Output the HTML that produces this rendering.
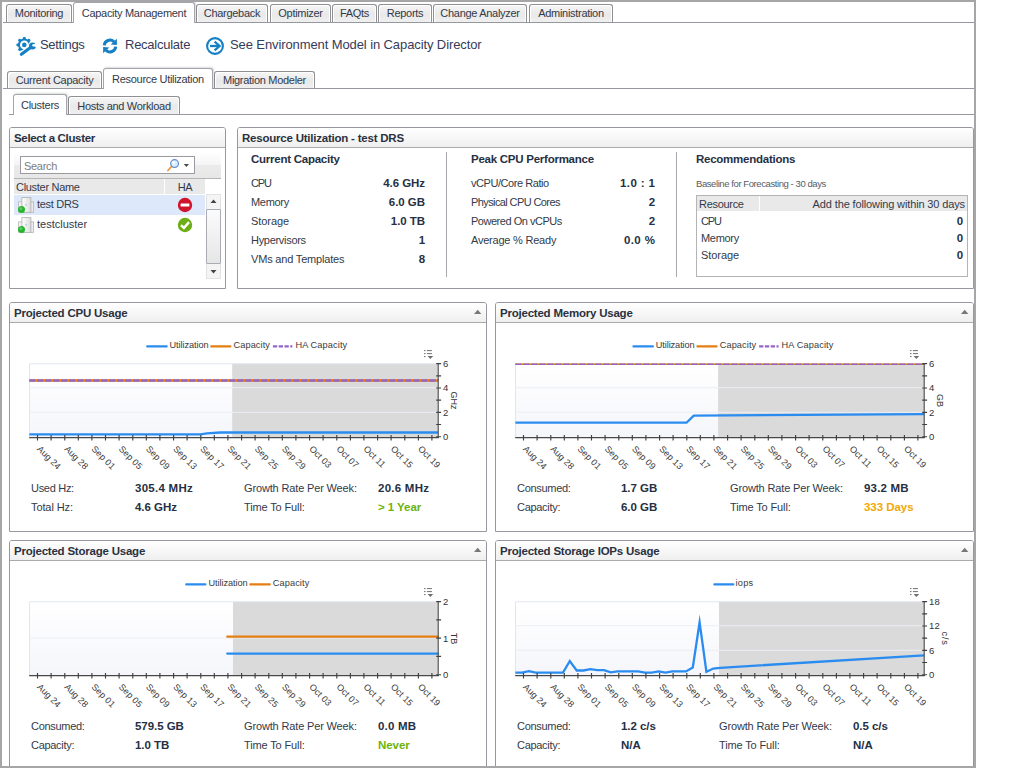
<!DOCTYPE html><html><head><meta charset='utf-8'><title>Capacity Management</title><style>
html,body{margin:0;padding:0;background:#fff;}
body{width:1028px;height:768px;overflow:hidden;position:relative;font-family:"Liberation Sans",sans-serif;font-size:11px;color:#323a49;letter-spacing:-0.3px;}
div,span{box-sizing:border-box;}
.a{position:absolute;white-space:nowrap;}
.frame{position:absolute;background:#a6a6a6;z-index:10;}
.tab{position:absolute;border:1px solid #8f8f94;border-bottom:none;border-radius:3px 3px 0 0;background:linear-gradient(#f6f6f6,#e9e9e9 55%,#efefef);box-shadow:inset 1px 1px 0 #fff,inset -1px 0 0 #fff;text-align:center;white-space:nowrap;font-size:11px;}
.tab.on{background:#fff;border-color:#a4a6ad;box-shadow:1px -1px 2px rgba(0,0,0,.14);z-index:3;}
.hl{position:absolute;height:1px;background:#96989f;}
.panel{position:absolute;border:1px solid #96989f;border-radius:3px 3px 0 0;background:#fff;}
.ph{position:absolute;left:0;right:0;top:0;height:20px;border-bottom:1px solid #a9a9ae;border-radius:2px 2px 0 0;background:linear-gradient(#ffffff,#efefef);}
.pt{position:absolute;left:4px;top:4px;font-weight:bold;font-size:11.5px;letter-spacing:-0.22px;color:#2a3140;white-space:nowrap;}
.b{font-weight:bold;font-size:11.5px;letter-spacing:-0.05px;color:#263044;}
.h2{font-weight:bold;font-size:11.5px;letter-spacing:-0.25px;color:#263044;}
.r{text-align:right;}
.tb{font-size:13px;letter-spacing:-0.1px;color:#363c5a;}
.ct{font-family:"Liberation Sans",sans-serif;}
</style></head><body>
<div class='frame' style='left:0;top:0;width:2px;height:768px'></div>
<div class='frame' style='left:0;top:0;width:976px;height:2px'></div>
<div class='frame' style='left:974px;top:0;width:2px;height:768px'></div>
<div class='frame' style='left:0;top:766px;width:976px;height:2px'></div>
<div class='hl' style='left:3px;top:22px;width:971px'></div>
<div class='tab' style='left:6px;top:4px;width:66px;height:18px;line-height:17px'>Monitoring</div>
<div class='tab on' style='left:73px;top:2px;width:122px;height:21px;line-height:21px'>Capacity Management</div>
<div class='tab' style='left:196px;top:4px;width:72px;height:18px;line-height:17px'>Chargeback</div>
<div class='tab' style='left:270px;top:4px;width:61px;height:18px;line-height:17px'>Optimizer</div>
<div class='tab' style='left:332px;top:4px;width:45px;height:18px;line-height:17px'>FAQts</div>
<div class='tab' style='left:378px;top:4px;width:54px;height:18px;line-height:17px'>Reports</div>
<div class='tab' style='left:433px;top:4px;width:94px;height:18px;line-height:17px'>Change Analyzer</div>
<div class='tab' style='left:529px;top:4px;width:84px;height:18px;line-height:17px'>Administration</div>
<div class='a tb' style='left:40px;top:37px;letter-spacing:-0.3px'>Settings</div>
<div class='a tb' style='left:125px;top:37px;letter-spacing:-0.25px'>Recalculate</div>
<div class='a tb' style='left:230px;top:37px'>See Environment Model in Capacity Director</div>
<svg class='a' style='left:15px;top:35px' width='23' height='22' viewBox='0 0 23 22'>
<g fill='#1581c4'>
<circle cx='9.3' cy='9.9' r='6.3'/>
<g transform='translate(9.3 9.9)'>
<rect x='-1.5' y='-7.9' width='3' height='15.8' rx='1.1'/>
<rect x='-1.5' y='-7.9' width='3' height='15.8' rx='1.1' transform='rotate(45)'/>
<rect x='-1.5' y='-7.9' width='3' height='15.8' rx='1.1' transform='rotate(90)'/>
<rect x='-1.5' y='-7.9' width='3' height='15.8' rx='1.1' transform='rotate(135)'/>
</g></g>
<circle cx='9.3' cy='9.9' r='4.3' fill='#fff'/>
<circle cx='9.3' cy='9.9' r='2.3' fill='#1581c4'/>
<path d='M6.4 19.2 L16.2 12' stroke='#fff' stroke-width='5.6' stroke-linecap='round'/>
<circle cx='17.4' cy='11' r='4.6' fill='#fff'/>
<path d='M6.4 19.2 L16.2 12' stroke='#1581c4' stroke-width='3.2' stroke-linecap='round'/>
<circle cx='17.4' cy='11' r='3.5' fill='#1581c4'/>
<path d='M17.6 10.7 L23 6.5 L23 12.7 Z' fill='#fff'/>
<circle cx='18.6' cy='10.2' r='1.3' fill='#fff'/>
</svg>
<svg class='a' style='left:101px;top:37px' width='18' height='18' viewBox='0 0 18 18'>
<g fill='none' stroke='#1581c4' stroke-width='3'>
<path d='M3.3 8.4 A5.7 5.7 0 0 1 13 4.8'/>
<path d='M14.7 9.6 A5.7 5.7 0 0 1 5 13.2'/>
</g>
<path d='M15.9 1.8 L15.9 8 L9.7 7.4 Z' fill='#1581c4'/>
<path d='M2.1 16.2 L2.1 10 L8.3 10.6 Z' fill='#1581c4'/>
</svg>
<svg class='a' style='left:205px;top:36px' width='20' height='20' viewBox='0 0 20 20'>
<circle cx='10' cy='10' r='7.9' fill='#fff' stroke='#1581c4' stroke-width='2.1'/>
<path d='M5 10 H13.2' fill='none' stroke='#1581c4' stroke-width='2.3'/>
<path d='M9.6 5.6 L14.6 10 L9.6 14.4' fill='none' stroke='#1581c4' stroke-width='2.3' stroke-linejoin='miter'/>
</svg>
<div class='hl' style='left:3px;top:88px;width:971px'></div>
<div class='tab' style='left:7px;top:71px;width:95px;height:17px;line-height:17px'>Current Capacity</div>
<div class='tab on' style='left:103px;top:68px;width:110px;height:21px;line-height:20px'>Resource Utilization</div>
<div class='tab' style='left:214px;top:71px;width:101px;height:17px;line-height:17px'>Migration Modeler</div>
<div class='hl' style='left:9px;top:114px;width:965px'></div>
<div class='tab on' style='left:13px;top:94px;width:54px;height:21px;line-height:20px'>Clusters</div>
<div class='tab' style='left:68px;top:96px;width:112px;height:18px;line-height:18px'>Hosts and Workload</div>
<div class='panel' style='left:9px;top:127px;width:217px;height:162px'><div class='ph'></div><div class='pt' style='letter-spacing:-0.34px'>Select a Cluster</div></div>
<div class='a' style='left:14px;top:152px;width:207px;height:27px;background:linear-gradient(#ffffff,#f5f5f5 48%,#ebebeb 52%,#e7e7e7);border-bottom:1px solid #b5b5b5'></div>
<div class='a' style='left:20px;top:156px;width:175px;height:18px;border:1px solid #9a9aa0;background:#fff'></div>
<div class='a' style='left:24px;top:159px;font-size:11px;color:#7c7c7c;line-height:14px'>Search</div>
<svg class='a' style='left:165px;top:158px' width='28' height='14' viewBox='0 0 28 14'>
<path d='M6.4 8.6 L2.9 12.5' stroke='#ee9a35' stroke-width='1.7' stroke-linecap='round'/>
<circle cx='9.6' cy='5.6' r='3.9' fill='#d6efff' stroke='#6488cc' stroke-width='1.2'/>
<circle cx='8.6' cy='4.6' r='1.6' fill='#f2fbff'/>
<path d='M18.8 6 h5.2 l-2.6 3.1 z' fill='#4a4a4a'/>
</svg>
<div class='a' style='left:14px;top:179px;width:150px;height:15px;background:#e9e9e9'></div>
<div class='a' style='left:165px;top:179px;width:40px;height:15px;background:#e9e9e9'></div>
<div class='a' style='left:16px;top:180px;line-height:14px'>Cluster Name</div>
<div class='a' style='left:165px;top:180px;width:40px;text-align:center;line-height:14px'>HA</div>
<div class='a' style='left:14px;top:195px;width:191px;height:20px;background:#dde9fb'></div>
<div class='a' style='left:37px;top:197px;line-height:14px'>test DRS</div>
<div class='a' style='left:37px;top:217px;line-height:14px;letter-spacing:0'>testcluster</div>
<svg class='a' style='left:17px;top:196px' width='18' height='18' viewBox='0 0 18 18'>
<defs><linearGradient id='ci196' x1='0' y1='0' x2='1' y2='0'><stop offset='0' stop-color='#ffffff'/><stop offset='1' stop-color='#dcdcdc'/></linearGradient></defs>
<rect x='1.5' y='5.9' width='4' height='10.2' fill='#f2f2f2' stroke='#b9b9b9' stroke-width='.8'/>
<rect x='13.6' y='5.9' width='3' height='10.4' fill='#ececec' stroke='#b4b4b4' stroke-width='.8'/>
<rect x='4.9' y='1.6' width='9' height='14.8' fill='url(#ci196)' stroke='#b0b0b0' stroke-width='.8'/>
<rect x='8.4' y='8.4' width='1.4' height='1' fill='#86abd8'/>
<circle cx='4.5' cy='13.5' r='3.5' fill='#25b52f'/>
<circle cx='3.9' cy='12.6' r='1.6' fill='#5fd467' opacity='.8'/>
</svg>
<svg class='a' style='left:17px;top:216px' width='18' height='18' viewBox='0 0 18 18'>
<defs><linearGradient id='ci216' x1='0' y1='0' x2='1' y2='0'><stop offset='0' stop-color='#ffffff'/><stop offset='1' stop-color='#dcdcdc'/></linearGradient></defs>
<rect x='1.5' y='5.9' width='4' height='10.2' fill='#f2f2f2' stroke='#b9b9b9' stroke-width='.8'/>
<rect x='13.6' y='5.9' width='3' height='10.4' fill='#ececec' stroke='#b4b4b4' stroke-width='.8'/>
<rect x='4.9' y='1.6' width='9' height='14.8' fill='url(#ci216)' stroke='#b0b0b0' stroke-width='.8'/>
<rect x='8.4' y='8.4' width='1.4' height='1' fill='#86abd8'/>
<circle cx='4.5' cy='13.5' r='3.5' fill='#25b52f'/>
<circle cx='3.9' cy='12.6' r='1.6' fill='#5fd467' opacity='.8'/>
</svg>
<svg class='a' style='left:177px;top:197px' width='16' height='16' viewBox='0 0 16 16'><circle cx='8' cy='8' r='7.2' fill='#d0142c'/><rect x='3.6' y='6.5' width='8.8' height='3' rx='.6' fill='#fff'/></svg>
<svg class='a' style='left:177px;top:217px' width='16' height='16' viewBox='0 0 16 16'><circle cx='8' cy='8' r='7.2' fill='#6cae14'/><path d='M4 8.2 L6.9 11 L12 5.2' fill='none' stroke='#fff' stroke-width='2.5'/></svg>
<div class='a' style='left:206px;top:194px;width:15px;height:85px;background:#f4f4f4;border:1px solid #e2e2e2'></div>
<div class='a' style='left:206px;top:209px;width:15px;height:55px;background:linear-gradient(180deg,#fbfbfb,#e6e6e6);border:1px solid #a9acb3;border-radius:1px'></div>
<svg class='a' style='left:206px;top:194px' width='15' height='85'><path d='M4.5 9 h6 l-3 -3.5 z M4.5 76 h6 l-3 3.5 z' fill='#444'/></svg>
<div class='panel' style='left:237px;top:127px;width:737px;height:162px'><div class='ph'></div><div class='pt'>Resource Utilization - test DRS</div></div>
<div class='a' style='left:446px;top:152px;width:1px;height:125px;background:#a8a8ae'></div>
<div class='a' style='left:676px;top:152px;width:1px;height:125px;background:#a8a8ae'></div>
<div class='a h2' style='left:251px;top:152px;line-height:14px'>Current Capacity</div>
<div class='a h2' style='left:471px;top:152px;line-height:14px'>Peak CPU Performance</div>
<div class='a h2' style='left:696px;top:152px;line-height:14px'>Recommendations</div>
<div class='a' style='left:251px;top:176px;line-height:14px;letter-spacing:-1.1px;'>CPU</div>
<div class='a b r' style='left:325px;width:100px;top:176px;line-height:14px'>4.6 GHz</div>
<div class='a' style='left:251px;top:195px;line-height:14px;'>Memory</div>
<div class='a b r' style='left:325px;width:100px;top:195px;line-height:14px'>6.0 GB</div>
<div class='a' style='left:251px;top:214px;line-height:14px;letter-spacing:-0.07px;'>Storage</div>
<div class='a b r' style='left:325px;width:100px;top:214px;line-height:14px'>1.0 TB</div>
<div class='a' style='left:251px;top:233px;line-height:14px;'>Hypervisors</div>
<div class='a b r' style='left:325px;width:100px;top:233px;line-height:14px'>1</div>
<div class='a' style='left:251px;top:252px;line-height:14px;letter-spacing:-0.18px;'>VMs and Templates</div>
<div class='a b r' style='left:325px;width:100px;top:252px;line-height:14px'>8</div>
<div class='a' style='left:471px;top:176px;line-height:14px;letter-spacing:-0.44px;'>vCPU/Core Ratio</div>
<div class='a b r' style='left:555px;width:100px;top:176px;line-height:14px;letter-spacing:0.4px;margin-left:0.4px;'>1.0 : 1</div>
<div class='a' style='left:471px;top:195px;line-height:14px;letter-spacing:-0.6px;'>Physical CPU Cores</div>
<div class='a b r' style='left:555px;width:100px;top:195px;line-height:14px;'>2</div>
<div class='a' style='left:471px;top:214px;line-height:14px;letter-spacing:-0.48px;'>Powered On vCPUs</div>
<div class='a b r' style='left:555px;width:100px;top:214px;line-height:14px;'>2</div>
<div class='a' style='left:471px;top:233px;line-height:14px;letter-spacing:-0.22px;'>Average % Ready</div>
<div class='a b r' style='left:555px;width:100px;top:233px;line-height:14px;letter-spacing:0.4px;margin-left:0.4px;'>0.0 %</div>
<div class='a' style='left:696px;top:178px;font-size:9.5px;letter-spacing:-0.42px;color:#555c68;line-height:12px'>Baseline for Forecasting - 30 days</div>
<div class='a' style='left:696px;top:195px;width:272px;height:82px;border:1px solid #b3b3b8;background:#fff'></div>
<div class='a' style='left:697px;top:196px;width:62px;height:15px;background:#e9e9e9'></div>
<div class='a' style='left:760px;top:196px;width:207px;height:15px;background:#e9e9e9'></div>
<div class='a' style='left:699px;top:197px;line-height:14px'>Resource</div>
<div class='a r' style='left:760px;width:205px;top:197px;line-height:14px;letter-spacing:-0.13px'>Add the following within 30 days</div>
<div class='a' style='left:701px;top:214px;line-height:14px;letter-spacing:-1.1px;'>CPU</div>
<div class='a b r' style='left:863px;width:100px;top:214px;line-height:14px'>0</div>
<div class='a' style='left:701px;top:231px;line-height:14px;'>Memory</div>
<div class='a b r' style='left:863px;width:100px;top:231px;line-height:14px'>0</div>
<div class='a' style='left:701px;top:248px;line-height:14px;letter-spacing:-0.07px;'>Storage</div>
<div class='a b r' style='left:863px;width:100px;top:248px;line-height:14px'>0</div>
<div class='panel' style='left:9px;top:302px;width:478px;height:230px'><div class='ph'></div><div class='pt'>Projected CPU Usage</div></div>
<svg class='a' style='left:473px;top:309px' width='10' height='6'><path d='M1 5 h7.4 l-3.7 -4.2 z' fill='#777'/></svg>
<svg class='a ct' style='left:9px;top:302px;letter-spacing:0' width='478' height='230' viewBox='0 0 478 230'><defs><linearGradient id='g9302' x1='0' y1='0' x2='0' y2='1'><stop offset='0' stop-color='#ffffff'/><stop offset='1' stop-color='#f5f6fb'/></linearGradient></defs><rect x='20.2' y='61.6' width='409.0' height='74.0' fill='url(#g9302)'/><rect x='223.2' y='61.6' width='206.0' height='74.0' fill='#dadada'/><path d='M20.5 135.6 V61.800000000000004 H429.2' fill='none' stroke='#e2e5ef' stroke-width='1'/><path d='M20.2 110.3 H429.2' stroke='#eceef4' stroke-width='1'/><path d='M20.2 85.7 H429.2' stroke='#eceef4' stroke-width='1'/><clipPath id='c9302'><rect x='20.2' y='61.6' width='410.0' height='74.0'/></clipPath><g clip-path='url(#c9302)'><path d='M20.2 78.5 L429.2 78.5' fill='none' stroke='#e57f12' stroke-width='2.5' stroke-linejoin='round' stroke-miterlimit='30' stroke-linecap='butt'/><path d='M20.2 78.5 L429.2 78.5' fill='none' stroke='#9467c6' stroke-width='2.5' stroke-linejoin='round' stroke-miterlimit='30' stroke-linecap='butt' stroke-dasharray='6.4 1.6'/><path d='M20.2 132.3 L191.5 132.3 L198.0 131.3 L211.0 130.5 L429.2 130.5' fill='none' stroke='#2b8cf0' stroke-width='2.3' stroke-linejoin='round' stroke-miterlimit='30' stroke-linecap='butt'/></g><path d='M20.2 135.6 H429.8' stroke='#484848' stroke-width='1.15'/><path d='M429.2 61.2 V136.1' stroke='#4a4a4a' stroke-width='1.1'/><path d='M28.5 133.1 v5.3 M42.1 133.1 v5.3 M55.8 133.1 v5.3 M69.3 133.1 v5.3 M82.9 133.1 v5.3 M96.5 133.1 v5.3 M110.1 133.1 v5.3 M123.8 133.1 v5.3 M137.3 133.1 v5.3 M150.9 133.1 v5.3 M164.6 133.1 v5.3 M178.1 133.1 v5.3 M191.8 133.1 v5.3 M205.3 133.1 v5.3 M218.9 133.1 v5.3 M232.6 133.1 v5.3 M246.1 133.1 v5.3 M259.8 133.1 v5.3 M273.3 133.1 v5.3 M286.9 133.1 v5.3 M300.6 133.1 v5.3 M314.1 133.1 v5.3 M327.8 133.1 v5.3 M341.4 133.1 v5.3 M354.9 133.1 v5.3 M368.6 133.1 v5.3 M382.1 133.1 v5.3 M395.8 133.1 v5.3 M409.4 133.1 v5.3 M422.9 133.1 v5.3 M427.2 134.7 h4.9 M427.2 122.5 h4.9 M427.2 110.3 h4.9 M427.2 98.1 h4.9 M427.2 86.0 h4.9 M427.2 73.8 h4.9 M427.2 61.6 h4.9' stroke='#404040' stroke-width='1.15'/><text x='434.09999999999997' y='65.0' font-size='9.5' fill='#333'>6</text><text x='434.09999999999997' y='89.4' font-size='9.5' fill='#333'>4</text><text x='434.09999999999997' y='113.7' font-size='9.5' fill='#333'>2</text><text x='434.09999999999997' y='138.1' font-size='9.5' fill='#333'>0</text><text transform='translate(441.8 98.6) rotate(90)' text-anchor='middle' font-size='9' letter-spacing='0' fill='#333'>GHz</text><text transform='translate(27.6 147.5) rotate(45)' font-size='9' letter-spacing='0.1' fill='#3a3a3a'>Aug 24</text><text transform='translate(54.9 147.5) rotate(45)' font-size='9' letter-spacing='0.1' fill='#3a3a3a'>Aug 28</text><text transform='translate(82.0 147.5) rotate(45)' font-size='9' letter-spacing='0.1' fill='#3a3a3a'>Sep 01</text><text transform='translate(109.2 147.5) rotate(45)' font-size='9' letter-spacing='0.1' fill='#3a3a3a'>Sep 05</text><text transform='translate(136.4 147.5) rotate(45)' font-size='9' letter-spacing='0.1' fill='#3a3a3a'>Sep 09</text><text transform='translate(163.7 147.5) rotate(45)' font-size='9' letter-spacing='0.1' fill='#3a3a3a'>Sep 13</text><text transform='translate(190.8 147.5) rotate(45)' font-size='9' letter-spacing='0.1' fill='#3a3a3a'>Sep 17</text><text transform='translate(218.0 147.5) rotate(45)' font-size='9' letter-spacing='0.1' fill='#3a3a3a'>Sep 21</text><text transform='translate(245.2 147.5) rotate(45)' font-size='9' letter-spacing='0.1' fill='#3a3a3a'>Sep 25</text><text transform='translate(272.4 147.5) rotate(45)' font-size='9' letter-spacing='0.1' fill='#3a3a3a'>Sep 29</text><text transform='translate(299.7 147.5) rotate(45)' font-size='9' letter-spacing='0.1' fill='#3a3a3a'>Oct 03</text><text transform='translate(326.9 147.5) rotate(45)' font-size='9' letter-spacing='0.1' fill='#3a3a3a'>Oct 07</text><text transform='translate(354.1 147.5) rotate(45)' font-size='9' letter-spacing='0.1' fill='#3a3a3a'>Oct 11</text><text transform='translate(381.2 147.5) rotate(45)' font-size='9' letter-spacing='0.1' fill='#3a3a3a'>Oct 15</text><text transform='translate(408.5 147.5) rotate(45)' font-size='9' letter-spacing='0.1' fill='#3a3a3a'>Oct 19</text><path d='M138.2 44.4 H157.70000000000002' stroke='#2b8cf0' stroke-width='2.1' stroke-linecap='round'/><text x='160.5' y='45.6' font-size='9.2' letter-spacing='-0.08' fill='#3a3a3a'>Utilization</text><path d='M202.2 44.4 H221.4' stroke='#e57f12' stroke-width='2.1' stroke-linecap='round'/><text x='224.5' y='45.6' font-size='9.2' letter-spacing='0.1' fill='#3a3a3a'>Capacity</text><path d='M263.90000000000003 44.4 H283.4' stroke='#9467c6' stroke-width='2.1' stroke-linecap='butt' stroke-dasharray='4.3 1.5'/><text x='286.4' y='45.6' font-size='9.2' letter-spacing='0.12' fill='#3a3a3a'>HA Capacity</text><g fill='#6e6e6e'><rect x='415.0' y='48.1' width='1.5' height='1'/><rect x='417.9' y='48.1' width='5' height='1'/><rect x='415.0' y='51.1' width='1.5' height='1'/><rect x='417.9' y='51.1' width='5' height='1'/><rect x='415.0' y='54.1' width='1.5' height='1'/><path d='M418.6 53.9 h5.6 l-2.8 3.1 z'/></g></svg>
<div class='a ' style='left:31px;top:481px;line-height:14px;'>Used Hz:</div>
<div class='a b' style='left:135px;top:481px;line-height:14px;letter-spacing:0.27px;'>305.4 MHz</div>
<div class='a ' style='left:244px;top:481px;line-height:14px;letter-spacing:-0.15px;'>Growth Rate Per Week:</div>
<div class='a b' style='left:378px;top:481px;line-height:14px;letter-spacing:0.25px;'>20.6 MHz</div>
<div class='a ' style='left:31px;top:500px;line-height:14px;letter-spacing:-0.1px;'>Total Hz:</div>
<div class='a b' style='left:135px;top:500px;line-height:14px;'>4.6 GHz</div>
<div class='a ' style='left:244px;top:500px;line-height:14px;letter-spacing:-0.13px;'>Time To Full:</div>
<div class='a b' style='left:378px;top:500px;line-height:14px;color:#6cb30d;'>&gt; 1 Year</div>
<div class='panel' style='left:495px;top:302px;width:479px;height:230px'><div class='ph'></div><div class='pt'>Projected Memory Usage</div></div>
<svg class='a' style='left:960px;top:309px' width='10' height='6'><path d='M1 5 h7.4 l-3.7 -4.2 z' fill='#777'/></svg>
<svg class='a ct' style='left:495px;top:302px;letter-spacing:0' width='479' height='230' viewBox='0 0 479 230'><defs><linearGradient id='g495302' x1='0' y1='0' x2='0' y2='1'><stop offset='0' stop-color='#ffffff'/><stop offset='1' stop-color='#f5f6fb'/></linearGradient></defs><rect x='20.2' y='61.6' width='409.0' height='74.0' fill='url(#g495302)'/><rect x='223.1' y='61.6' width='206.1' height='74.0' fill='#dadada'/><path d='M20.5 135.6 V61.800000000000004 H429.2' fill='none' stroke='#e2e5ef' stroke-width='1'/><path d='M20.2 110.3 H429.2' stroke='#eceef4' stroke-width='1'/><path d='M20.2 85.7 H429.2' stroke='#eceef4' stroke-width='1'/><clipPath id='c495302'><rect x='20.2' y='61.6' width='410.0' height='74.0'/></clipPath><g clip-path='url(#c495302)'><path d='M20.2 61.6 L429.2 61.6' fill='none' stroke='#e57f12' stroke-width='2.7' stroke-linejoin='round' stroke-miterlimit='30' stroke-linecap='butt'/><path d='M20.2 61.6 L429.2 61.6' fill='none' stroke='#9467c6' stroke-width='2.7' stroke-linejoin='round' stroke-miterlimit='30' stroke-linecap='butt' stroke-dasharray='6.4 1.6'/><path d='M20.2 120.7 L191.5 120.7 L198.8 113.6 L429.2 112.2' fill='none' stroke='#2b8cf0' stroke-width='2.3' stroke-linejoin='round' stroke-miterlimit='30' stroke-linecap='butt'/></g><path d='M20.2 135.6 H429.8' stroke='#484848' stroke-width='1.15'/><path d='M429.2 61.2 V136.1' stroke='#4a4a4a' stroke-width='1.1'/><path d='M28.5 133.1 v5.3 M42.1 133.1 v5.3 M55.8 133.1 v5.3 M69.3 133.1 v5.3 M82.9 133.1 v5.3 M96.5 133.1 v5.3 M110.1 133.1 v5.3 M123.8 133.1 v5.3 M137.3 133.1 v5.3 M150.9 133.1 v5.3 M164.6 133.1 v5.3 M178.1 133.1 v5.3 M191.8 133.1 v5.3 M205.3 133.1 v5.3 M218.9 133.1 v5.3 M232.6 133.1 v5.3 M246.1 133.1 v5.3 M259.8 133.1 v5.3 M273.3 133.1 v5.3 M286.9 133.1 v5.3 M300.6 133.1 v5.3 M314.1 133.1 v5.3 M327.8 133.1 v5.3 M341.4 133.1 v5.3 M354.9 133.1 v5.3 M368.6 133.1 v5.3 M382.1 133.1 v5.3 M395.8 133.1 v5.3 M409.4 133.1 v5.3 M422.9 133.1 v5.3 M427.2 134.7 h4.9 M427.2 122.5 h4.9 M427.2 110.3 h4.9 M427.2 98.1 h4.9 M427.2 86.0 h4.9 M427.2 73.8 h4.9 M427.2 61.6 h4.9' stroke='#404040' stroke-width='1.15'/><text x='434.09999999999997' y='65.0' font-size='9.5' fill='#333'>6</text><text x='434.09999999999997' y='89.4' font-size='9.5' fill='#333'>4</text><text x='434.09999999999997' y='113.7' font-size='9.5' fill='#333'>2</text><text x='434.09999999999997' y='138.1' font-size='9.5' fill='#333'>0</text><text transform='translate(441.8 98.6) rotate(90)' text-anchor='middle' font-size='9' letter-spacing='0' fill='#333'>GB</text><text transform='translate(27.6 147.5) rotate(45)' font-size='9' letter-spacing='0.1' fill='#3a3a3a'>Aug 24</text><text transform='translate(54.9 147.5) rotate(45)' font-size='9' letter-spacing='0.1' fill='#3a3a3a'>Aug 28</text><text transform='translate(82.0 147.5) rotate(45)' font-size='9' letter-spacing='0.1' fill='#3a3a3a'>Sep 01</text><text transform='translate(109.2 147.5) rotate(45)' font-size='9' letter-spacing='0.1' fill='#3a3a3a'>Sep 05</text><text transform='translate(136.4 147.5) rotate(45)' font-size='9' letter-spacing='0.1' fill='#3a3a3a'>Sep 09</text><text transform='translate(163.7 147.5) rotate(45)' font-size='9' letter-spacing='0.1' fill='#3a3a3a'>Sep 13</text><text transform='translate(190.8 147.5) rotate(45)' font-size='9' letter-spacing='0.1' fill='#3a3a3a'>Sep 17</text><text transform='translate(218.0 147.5) rotate(45)' font-size='9' letter-spacing='0.1' fill='#3a3a3a'>Sep 21</text><text transform='translate(245.2 147.5) rotate(45)' font-size='9' letter-spacing='0.1' fill='#3a3a3a'>Sep 25</text><text transform='translate(272.4 147.5) rotate(45)' font-size='9' letter-spacing='0.1' fill='#3a3a3a'>Sep 29</text><text transform='translate(299.7 147.5) rotate(45)' font-size='9' letter-spacing='0.1' fill='#3a3a3a'>Oct 03</text><text transform='translate(326.9 147.5) rotate(45)' font-size='9' letter-spacing='0.1' fill='#3a3a3a'>Oct 07</text><text transform='translate(354.1 147.5) rotate(45)' font-size='9' letter-spacing='0.1' fill='#3a3a3a'>Oct 11</text><text transform='translate(381.2 147.5) rotate(45)' font-size='9' letter-spacing='0.1' fill='#3a3a3a'>Oct 15</text><text transform='translate(408.5 147.5) rotate(45)' font-size='9' letter-spacing='0.1' fill='#3a3a3a'>Oct 19</text><path d='M138.39999999999998 44.4 H157.9' stroke='#2b8cf0' stroke-width='2.1' stroke-linecap='round'/><text x='160.7' y='45.6' font-size='9.2' letter-spacing='-0.08' fill='#3a3a3a'>Utilization</text><path d='M202.39999999999998 44.4 H221.6' stroke='#e57f12' stroke-width='2.1' stroke-linecap='round'/><text x='224.7' y='45.6' font-size='9.2' letter-spacing='0.1' fill='#3a3a3a'>Capacity</text><path d='M264.1 44.4 H283.59999999999997' stroke='#9467c6' stroke-width='2.1' stroke-linecap='butt' stroke-dasharray='4.3 1.5'/><text x='286.59999999999997' y='45.6' font-size='9.2' letter-spacing='0.12' fill='#3a3a3a'>HA Capacity</text><g fill='#6e6e6e'><rect x='415.0' y='48.1' width='1.5' height='1'/><rect x='417.9' y='48.1' width='5' height='1'/><rect x='415.0' y='51.1' width='1.5' height='1'/><rect x='417.9' y='51.1' width='5' height='1'/><rect x='415.0' y='54.1' width='1.5' height='1'/><path d='M418.6 53.9 h5.6 l-2.8 3.1 z'/></g></svg>
<div class='a ' style='left:517px;top:481px;line-height:14px;'>Consumed:</div>
<div class='a b' style='left:621px;top:481px;line-height:14px;'>1.7 GB</div>
<div class='a ' style='left:730px;top:481px;line-height:14px;letter-spacing:-0.15px;'>Growth Rate Per Week:</div>
<div class='a b' style='left:864px;top:481px;line-height:14px;letter-spacing:0.2px;'>93.2 MB</div>
<div class='a ' style='left:517px;top:500px;line-height:14px;'>Capacity:</div>
<div class='a b' style='left:621px;top:500px;line-height:14px;'>6.0 GB</div>
<div class='a ' style='left:730px;top:500px;line-height:14px;letter-spacing:-0.13px;'>Time To Full:</div>
<div class='a b' style='left:864px;top:500px;line-height:14px;color:#f1a806;'>333 Days</div>
<div class='panel' style='left:9px;top:540px;width:478px;height:240px'><div class='ph'></div><div class='pt'>Projected Storage Usage</div></div>
<svg class='a' style='left:473px;top:547px' width='10' height='6'><path d='M1 5 h7.4 l-3.7 -4.2 z' fill='#777'/></svg>
<svg class='a ct' style='left:9px;top:540px;letter-spacing:0' width='478' height='240' viewBox='0 0 478 240'><defs><linearGradient id='g9540' x1='0' y1='0' x2='0' y2='1'><stop offset='0' stop-color='#ffffff'/><stop offset='1' stop-color='#f5f6fb'/></linearGradient></defs><rect x='20.2' y='61.6' width='409.0' height='74.0' fill='url(#g9540)'/><rect x='224' y='61.6' width='205.2' height='74.0' fill='#dadada'/><path d='M20.5 135.6 V61.800000000000004 H429.2' fill='none' stroke='#e2e5ef' stroke-width='1'/><path d='M20.2 98.0 H429.2' stroke='#eceef4' stroke-width='1'/><clipPath id='c9540'><rect x='20.2' y='61.6' width='410.0' height='74.0'/></clipPath><g clip-path='url(#c9540)'><path d='M218.2 96.6 L429.2 96.6' fill='none' stroke='#e57f12' stroke-width='2.2' stroke-linejoin='round' stroke-miterlimit='30' stroke-linecap='round'/><path d='M218.2 113.6 L429.2 113.6' fill='none' stroke='#2b8cf0' stroke-width='2.2' stroke-linejoin='round' stroke-miterlimit='30' stroke-linecap='round'/></g><path d='M20.2 135.6 H429.8' stroke='#484848' stroke-width='1.15'/><path d='M429.2 61.2 V136.1' stroke='#4a4a4a' stroke-width='1.1'/><path d='M28.5 133.1 v5.3 M42.1 133.1 v5.3 M55.8 133.1 v5.3 M69.3 133.1 v5.3 M82.9 133.1 v5.3 M96.5 133.1 v5.3 M110.1 133.1 v5.3 M123.8 133.1 v5.3 M137.3 133.1 v5.3 M150.9 133.1 v5.3 M164.6 133.1 v5.3 M178.1 133.1 v5.3 M191.8 133.1 v5.3 M205.3 133.1 v5.3 M218.9 133.1 v5.3 M232.6 133.1 v5.3 M246.1 133.1 v5.3 M259.8 133.1 v5.3 M273.3 133.1 v5.3 M286.9 133.1 v5.3 M300.6 133.1 v5.3 M314.1 133.1 v5.3 M327.8 133.1 v5.3 M341.4 133.1 v5.3 M354.9 133.1 v5.3 M368.6 133.1 v5.3 M382.1 133.1 v5.3 M395.8 133.1 v5.3 M409.4 133.1 v5.3 M422.9 133.1 v5.3 M427.2 134.7 h4.9 M427.2 116.4 h4.9 M427.2 98.1 h4.9 M427.2 79.9 h4.9 M427.2 61.6 h4.9' stroke='#404040' stroke-width='1.15'/><text x='434.09999999999997' y='65.0' font-size='9.5' fill='#333'>2</text><text x='434.09999999999997' y='101.5' font-size='9.5' fill='#333'>1</text><text x='434.09999999999997' y='138.1' font-size='9.5' fill='#333'>0</text><text transform='translate(441.8 98.6) rotate(90)' text-anchor='middle' font-size='9' letter-spacing='0' fill='#333'>TB</text><text transform='translate(27.6 147.5) rotate(45)' font-size='9' letter-spacing='0.1' fill='#3a3a3a'>Aug 24</text><text transform='translate(54.9 147.5) rotate(45)' font-size='9' letter-spacing='0.1' fill='#3a3a3a'>Aug 28</text><text transform='translate(82.0 147.5) rotate(45)' font-size='9' letter-spacing='0.1' fill='#3a3a3a'>Sep 01</text><text transform='translate(109.2 147.5) rotate(45)' font-size='9' letter-spacing='0.1' fill='#3a3a3a'>Sep 05</text><text transform='translate(136.4 147.5) rotate(45)' font-size='9' letter-spacing='0.1' fill='#3a3a3a'>Sep 09</text><text transform='translate(163.7 147.5) rotate(45)' font-size='9' letter-spacing='0.1' fill='#3a3a3a'>Sep 13</text><text transform='translate(190.8 147.5) rotate(45)' font-size='9' letter-spacing='0.1' fill='#3a3a3a'>Sep 17</text><text transform='translate(218.0 147.5) rotate(45)' font-size='9' letter-spacing='0.1' fill='#3a3a3a'>Sep 21</text><text transform='translate(245.2 147.5) rotate(45)' font-size='9' letter-spacing='0.1' fill='#3a3a3a'>Sep 25</text><text transform='translate(272.4 147.5) rotate(45)' font-size='9' letter-spacing='0.1' fill='#3a3a3a'>Sep 29</text><text transform='translate(299.7 147.5) rotate(45)' font-size='9' letter-spacing='0.1' fill='#3a3a3a'>Oct 03</text><text transform='translate(326.9 147.5) rotate(45)' font-size='9' letter-spacing='0.1' fill='#3a3a3a'>Oct 07</text><text transform='translate(354.1 147.5) rotate(45)' font-size='9' letter-spacing='0.1' fill='#3a3a3a'>Oct 11</text><text transform='translate(381.2 147.5) rotate(45)' font-size='9' letter-spacing='0.1' fill='#3a3a3a'>Oct 15</text><text transform='translate(408.5 147.5) rotate(45)' font-size='9' letter-spacing='0.1' fill='#3a3a3a'>Oct 19</text><path d='M177.2 44.4 H196.4' stroke='#2b8cf0' stroke-width='2.1' stroke-linecap='round'/><text x='199.5' y='45.6' font-size='9.2' letter-spacing='-0.08' fill='#3a3a3a'>Utilization</text><path d='M241.29999999999998 44.4 H260.79999999999995' stroke='#e57f12' stroke-width='2.1' stroke-linecap='round'/><text x='263.8' y='45.6' font-size='9.2' letter-spacing='0.1' fill='#3a3a3a'>Capacity</text><g fill='#6e6e6e'><rect x='415.0' y='48.1' width='1.5' height='1'/><rect x='417.9' y='48.1' width='5' height='1'/><rect x='415.0' y='51.1' width='1.5' height='1'/><rect x='417.9' y='51.1' width='5' height='1'/><rect x='415.0' y='54.1' width='1.5' height='1'/><path d='M418.6 53.9 h5.6 l-2.8 3.1 z'/></g></svg>
<div class='a ' style='left:31px;top:719px;line-height:14px;'>Consumed:</div>
<div class='a b' style='left:135px;top:719px;line-height:14px;'>579.5 GB</div>
<div class='a ' style='left:244px;top:719px;line-height:14px;letter-spacing:-0.15px;'>Growth Rate Per Week:</div>
<div class='a b' style='left:378px;top:719px;line-height:14px;letter-spacing:0.2px;'>0.0 MB</div>
<div class='a ' style='left:31px;top:738px;line-height:14px;'>Capacity:</div>
<div class='a b' style='left:135px;top:738px;line-height:14px;'>1.0 TB</div>
<div class='a ' style='left:244px;top:738px;line-height:14px;letter-spacing:-0.13px;'>Time To Full:</div>
<div class='a b' style='left:378px;top:738px;line-height:14px;color:#6cb30d;'>Never</div>
<div class='panel' style='left:495px;top:540px;width:479px;height:240px'><div class='ph'></div><div class='pt'>Projected Storage IOPs Usage</div></div>
<svg class='a' style='left:960px;top:547px' width='10' height='6'><path d='M1 5 h7.4 l-3.7 -4.2 z' fill='#777'/></svg>
<svg class='a ct' style='left:495px;top:540px;letter-spacing:0' width='479' height='240' viewBox='0 0 479 240'><defs><linearGradient id='g495540' x1='0' y1='0' x2='0' y2='1'><stop offset='0' stop-color='#ffffff'/><stop offset='1' stop-color='#f5f6fb'/></linearGradient></defs><rect x='20.2' y='61.6' width='409.0' height='74.0' fill='url(#g495540)'/><rect x='224' y='61.6' width='205.2' height='74.0' fill='#dadada'/><path d='M20.5 135.6 V61.800000000000004 H429.2' fill='none' stroke='#e2e5ef' stroke-width='1'/><path d='M20.2 110.3 H429.2' stroke='#eceef4' stroke-width='1'/><path d='M20.2 85.7 H429.2' stroke='#eceef4' stroke-width='1'/><clipPath id='c495540'><rect x='20.2' y='61.6' width='410.0' height='74.0'/></clipPath><g clip-path='url(#c495540)'><path d='M20.2 132.6 L27.0 132.6 L33.9 131.2 L40.7 132.6 L47.5 132.6 L54.3 132.6 L61.2 132.6 L68.0 132.6 L74.8 121.0 L81.7 130.5 L88.5 130.5 L95.3 129.2 L102.2 130.2 L109.0 130.2 L115.8 132.4 L122.7 131.4 L129.5 131.4 L136.3 131.4 L143.1 131.4 L150.0 132.6 L156.8 132.6 L163.6 131.4 L170.5 132.6 L177.3 131.4 L184.1 131.4 L190.9 131.4 L197.8 127.5 L204.6 82.3 L211.4 131.7 L218.3 128.5 L225.1 127.8 L429.2 115.4' fill='none' stroke='#2b8cf0' stroke-width='2.3' stroke-linejoin='miter' stroke-miterlimit='30' stroke-linecap='butt'/></g><path d='M20.2 135.6 H429.8' stroke='#484848' stroke-width='1.15'/><path d='M429.2 61.2 V136.1' stroke='#4a4a4a' stroke-width='1.1'/><path d='M28.5 133.1 v5.3 M42.1 133.1 v5.3 M55.8 133.1 v5.3 M69.3 133.1 v5.3 M82.9 133.1 v5.3 M96.5 133.1 v5.3 M110.1 133.1 v5.3 M123.8 133.1 v5.3 M137.3 133.1 v5.3 M150.9 133.1 v5.3 M164.6 133.1 v5.3 M178.1 133.1 v5.3 M191.8 133.1 v5.3 M205.3 133.1 v5.3 M218.9 133.1 v5.3 M232.6 133.1 v5.3 M246.1 133.1 v5.3 M259.8 133.1 v5.3 M273.3 133.1 v5.3 M286.9 133.1 v5.3 M300.6 133.1 v5.3 M314.1 133.1 v5.3 M327.8 133.1 v5.3 M341.4 133.1 v5.3 M354.9 133.1 v5.3 M368.6 133.1 v5.3 M382.1 133.1 v5.3 M395.8 133.1 v5.3 M409.4 133.1 v5.3 M422.9 133.1 v5.3 M427.2 134.7 h4.9 M427.2 122.5 h4.9 M427.2 110.3 h4.9 M427.2 98.1 h4.9 M427.2 86.0 h4.9 M427.2 73.8 h4.9 M427.2 61.6 h4.9' stroke='#404040' stroke-width='1.15'/><text x='434.09999999999997' y='65.0' font-size='9.5' fill='#333'>18</text><text x='434.09999999999997' y='89.4' font-size='9.5' fill='#333'>12</text><text x='434.09999999999997' y='113.7' font-size='9.5' fill='#333'>6</text><text x='434.09999999999997' y='138.1' font-size='9.5' fill='#333'>0</text><text transform='translate(446.59999999999997 98.6) rotate(90)' text-anchor='middle' font-size='9' letter-spacing='0.9' fill='#333'>c/s</text><text transform='translate(27.6 147.5) rotate(45)' font-size='9' letter-spacing='0.1' fill='#3a3a3a'>Aug 24</text><text transform='translate(54.9 147.5) rotate(45)' font-size='9' letter-spacing='0.1' fill='#3a3a3a'>Aug 28</text><text transform='translate(82.0 147.5) rotate(45)' font-size='9' letter-spacing='0.1' fill='#3a3a3a'>Sep 01</text><text transform='translate(109.2 147.5) rotate(45)' font-size='9' letter-spacing='0.1' fill='#3a3a3a'>Sep 05</text><text transform='translate(136.4 147.5) rotate(45)' font-size='9' letter-spacing='0.1' fill='#3a3a3a'>Sep 09</text><text transform='translate(163.7 147.5) rotate(45)' font-size='9' letter-spacing='0.1' fill='#3a3a3a'>Sep 13</text><text transform='translate(190.8 147.5) rotate(45)' font-size='9' letter-spacing='0.1' fill='#3a3a3a'>Sep 17</text><text transform='translate(218.0 147.5) rotate(45)' font-size='9' letter-spacing='0.1' fill='#3a3a3a'>Sep 21</text><text transform='translate(245.2 147.5) rotate(45)' font-size='9' letter-spacing='0.1' fill='#3a3a3a'>Sep 25</text><text transform='translate(272.4 147.5) rotate(45)' font-size='9' letter-spacing='0.1' fill='#3a3a3a'>Sep 29</text><text transform='translate(299.7 147.5) rotate(45)' font-size='9' letter-spacing='0.1' fill='#3a3a3a'>Oct 03</text><text transform='translate(326.9 147.5) rotate(45)' font-size='9' letter-spacing='0.1' fill='#3a3a3a'>Oct 07</text><text transform='translate(354.1 147.5) rotate(45)' font-size='9' letter-spacing='0.1' fill='#3a3a3a'>Oct 11</text><text transform='translate(381.2 147.5) rotate(45)' font-size='9' letter-spacing='0.1' fill='#3a3a3a'>Oct 15</text><text transform='translate(408.5 147.5) rotate(45)' font-size='9' letter-spacing='0.1' fill='#3a3a3a'>Oct 19</text><path d='M219.29999999999998 44.4 H238.4' stroke='#2b8cf0' stroke-width='2.1' stroke-linecap='round'/><text x='240.6' y='45.6' font-size='9.2' letter-spacing='0.2' fill='#3a3a3a'>iops</text><g fill='#6e6e6e'><rect x='415.0' y='48.1' width='1.5' height='1'/><rect x='417.9' y='48.1' width='5' height='1'/><rect x='415.0' y='51.1' width='1.5' height='1'/><rect x='417.9' y='51.1' width='5' height='1'/><rect x='415.0' y='54.1' width='1.5' height='1'/><path d='M418.6 53.9 h5.6 l-2.8 3.1 z'/></g></svg>
<div class='a ' style='left:517px;top:719px;line-height:14px;'>Consumed:</div>
<div class='a b' style='left:621px;top:719px;line-height:14px;'>1.2 c/s</div>
<div class='a ' style='left:719px;top:719px;line-height:14px;letter-spacing:-0.15px;'>Growth Rate Per Week:</div>
<div class='a b' style='left:853px;top:719px;line-height:14px;'>0.5 c/s</div>
<div class='a ' style='left:517px;top:738px;line-height:14px;'>Capacity:</div>
<div class='a b' style='left:621px;top:738px;line-height:14px;'>N/A</div>
<div class='a ' style='left:719px;top:738px;line-height:14px;letter-spacing:-0.13px;'>Time To Full:</div>
<div class='a b' style='left:853px;top:738px;line-height:14px;'>N/A</div>
</body></html>
